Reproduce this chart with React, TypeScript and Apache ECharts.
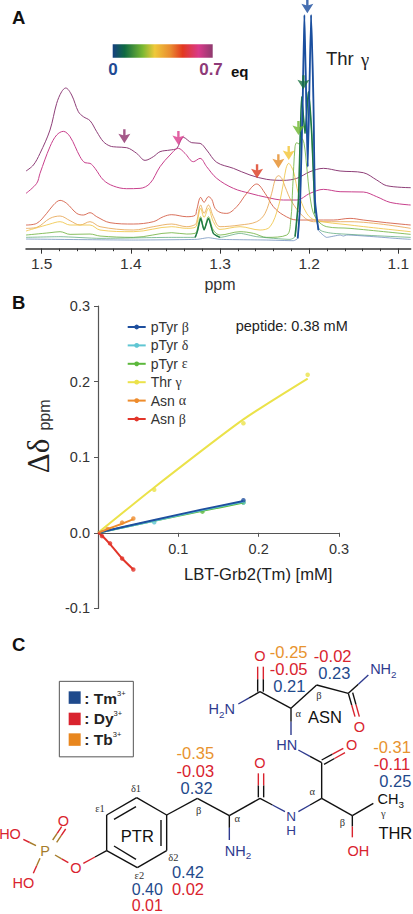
import React, { useEffect, useRef } from "react";
import * as echarts from "echarts";

// Panel A: NMR traces [ppm, relative intensity]
const tracePurple = [[1.5176,233],[1.5093,251],[1.5019,286],[1.4907,356],[1.4832,436],[1.4776,471],[1.4731,482],[1.4664,461],[1.4589,411],[1.4533,396],[1.4458,384],[1.4383,351],[1.4308,321],[1.4234,308],[1.4159,305],[1.4047,303],[1.3935,286],[1.3841,265],[1.3748,276],[1.3673,291],[1.3561,296],[1.3486,301],[1.3411,334],[1.3318,318],[1.3224,316],[1.315,296],[1.3037,259],[1.285,241],[1.2664,221],[1.2477,208],[1.229,205],[1.214,211],[1.1991,231],[1.1841,241],[1.1654,233],[1.1393,228],[1.1243,206],[1.1131,189],[1.0862,183]];
const tracePink = [[1.5176,166],[1.5056,196],[1.5019,226],[1.4907,306],[1.4832,341],[1.4757,352],[1.4682,336],[1.457,276],[1.4514,258],[1.4458,256],[1.4402,241],[1.4308,206],[1.4196,188],[1.4047,180],[1.3897,181],[1.3785,196],[1.3673,246],[1.3561,281],[1.3467,301],[1.3393,286],[1.3299,261],[1.3224,271],[1.315,246],[1.3037,211],[1.285,181],[1.2664,166],[1.2477,154],[1.229,146],[1.214,146],[1.1991,166],[1.1841,178],[1.1654,171],[1.1393,170],[1.1243,156],[1.1093,139],[1.0862,131]];
const traceRed = [[1.5176,71],[1.5056,76],[1.4944,106],[1.4869,131],[1.4794,145],[1.472,136],[1.4607,106],[1.4533,101],[1.4458,108],[1.4383,96],[1.4234,78],[1.3972,74],[1.3748,81],[1.3636,96],[1.3542,102],[1.3374,96],[1.328,100],[1.3262,116],[1.3217,154],[1.3179,139],[1.3131,156],[1.3093,148],[1.3056,121],[1.3,109],[1.2925,106],[1.2813,126],[1.2701,166],[1.2589,194],[1.2495,166],[1.2402,126],[1.229,101],[1.214,86],[1.1953,86],[1.1729,86],[1.1542,91],[1.1393,86],[1.1131,78],[1.0862,71]];
const traceOrange = [[1.5176,61],[1.5056,64],[1.4907,91],[1.4794,98],[1.4682,84],[1.457,71],[1.4458,81],[1.4346,66],[1.3972,56],[1.3748,66],[1.3542,74],[1.3374,66],[1.328,72],[1.3262,81],[1.3217,131],[1.3179,106],[1.3131,131],[1.3075,96],[1.3,66],[1.2776,71],[1.2589,81],[1.2495,106],[1.2421,166],[1.2383,206],[1.2346,219],[1.2308,211],[1.2271,186],[1.2196,141],[1.2065,96],[1.1953,81],[1.1542,81],[1.0862,61]];
const traceYellow = [[1.5176,53],[1.4907,74],[1.4794,81],[1.4682,71],[1.4458,71],[1.4346,56],[1.3972,51],[1.3542,66],[1.3374,61],[1.328,64],[1.3262,71],[1.3217,121],[1.3179,94],[1.3131,121],[1.3075,81],[1.3,58],[1.2776,66],[1.2551,56],[1.2439,66],[1.2346,126],[1.229,196],[1.226,241],[1.223,256],[1.22,246],[1.217,226],[1.2121,166],[1.2028,106],[1.1935,86],[1.1542,71],[1.0862,51]];
const traceGreen = [[1.5176,41],[1.4907,48],[1.4794,51],[1.4682,43],[1.4458,44],[1.4346,38],[1.3972,34],[1.3542,48],[1.3374,44],[1.328,46],[1.3262,52],[1.3217,96],[1.3179,60],[1.3131,96],[1.3075,56],[1.3,41],[1.2776,51],[1.2626,46],[1.2477,34],[1.2252,41],[1.2207,86],[1.2185,186],[1.2159,306],[1.214,318],[1.2114,314],[1.2084,331],[1.2058,316],[1.2028,246],[1.1991,156],[1.1935,96],[1.1804,66],[1.1542,61],[1.0862,43]];
const traceDarkGreen = [[1.5176,34],[1.4794,36],[1.4346,31],[1.3542,34],[1.328,34],[1.3254,52],[1.3217,91],[1.3179,56],[1.3131,91],[1.3075,46],[1.3,34],[1.2776,46],[1.2589,36],[1.2215,28],[1.2159,36],[1.2121,146],[1.2084,456],[1.2047,346],[1.2009,471],[1.1972,346],[1.1935,106],[1.1879,56],[1.1729,46],[1.0862,34]];
const traceBlue = [[1.5176,29],[1.3972,26],[1.3262,28],[1.3131,33],[1.3,28],[1.2477,26],[1.2178,24],[1.2129,31],[1.2103,126],[1.2073,446],[1.2054,701],[1.2017,246],[1.1979,701],[1.1953,446],[1.1935,146],[1.1897,56],[1.1804,34],[1.1654,41],[1.1617,38],[1.1579,41],[1.0981,30],[1.0862,28]];
const arrowTips = [[1.2021,706],[1.2065,478],[1.2121,341],[1.223,266],[1.2346,241],[1.2585,211],[1.3467,311],[1.4073,316]];
const arrowColors = ["#164a9c","#15703f","#6cb52d","#f3c433","#e58b26","#dc3a1e","#d9398c","#8e2f6b"];
const ppmTicks = [1.1,1.2,1.3,1.4,1.5];
const ppmMinorTicks = [1.1,1.12,1.14,1.16,1.18,1.2,1.22,1.24,1.26,1.28,1.3,1.32,1.34,1.36,1.38,1.4,1.42,1.44,1.46,1.48,1.5];

// Panel B: fitted curves and measured points, [mM, ppm]
const fitThr = [[0,0],[0.07,0.06],[0.181,0.15],[0.261,0.204]];
const ptsThr = [[0.07,0.057],[0.181,0.145],[0.261,0.209]];
const fitEps = [[0,0],[0.07,0.016],[0.13,0.029],[0.181,0.04]];
const ptsEps = [[0.13,0.028],[0.181,0.04]];
const fitDelta = [[0,0],[0.07,0.016],[0.13,0.03],[0.181,0.041]];
const ptsDelta = [[0.07,0.014],[0.181,0.04]];
const fitBeta = [[0,0],[0.07,0.017],[0.13,0.031],[0.181,0.042]];
const ptsBeta = [[0.181,0.043]];
const fitAsnA = [[0,0],[0.012,0.005],[0.03,0.012],[0.044,0.018]];
const ptsAsnA = [[0.012,0.005],[0.03,0.0135],[0.044,0.019]];
const fitAsnB = [[0,0],[0.005,-0.004],[0.015,-0.015],[0.03,-0.034],[0.044,-0.0485]];
const ptsAsnB = [[0.005,-0.0044],[0.015,-0.014],[0.03,-0.034],[0.044,-0.0485]];
const legendNames = ["pTyr β","pTyr δ","pTyr ε","Thr γ","Asn α","Asn β"];

const SANS = "Liberation Sans";
const SERIF = "Liberation Serif";
const BLUE = "#1f4a8c", RED = "#d9232e", ORG = "#e8932e", NAVY = "#2f3b8f", BRN = "#a67c2a", BLK = "#111";

// Panel C helpers: coordinates on a 3x sketch of the lower panel
const px = (x: number) => x / 3;
const py = (y: number) => 610 + y / 3;
const bond = (x1: number, y1: number, x2: number, y2: number, c = BLK) => ({
  type: "line", silent: true,
  shape: { x1: px(x1), y1: py(y1), x2: px(x2), y2: py(y2) },
  style: { stroke: c, lineWidth: 1.4 },
});
const bond2 = (x1: number, y1: number, x2: number, y2: number, c1: string, c2: string) => {
  const mx = (x1 + x2) / 2, my = (y1 + y2) / 2;
  return [bond(x1, y1, mx, my, c1), bond(mx, my, x2, y2, c2)];
};
const label = (x: number, y: number, text: string, fill = BLK, fontSize = 14.5, extra: any = {}) => ({
  type: "text", silent: true, x: px(x), y: py(y), z: 5,
  style: {
    text, fill, fontSize, fontFamily: SANS, align: "center", verticalAlign: "middle",
    rich: {
      s: { fontSize: fontSize * 0.68, fill, fontFamily: SANS, padding: [10, 0, 0, 0] },
    },
    ...extra,
  },
});
const greek = (x: number, y: number, text: string) => label(x, y, text, "#333", 10.5, { fontFamily: SERIF });

const moleculeBonds = [
  bond(410,563,500,615), bond(500,615,500,722), bond(500,722,412,773), bond(412,773,320,722), bond(320,722,320,615), bond(320,615,410,563),
  bond(342,628,408,590), bond(483,630,483,708), bond(342,708,408,748),
  bond(500,615,592,565), bond(592,565,688,617), bond(688,617,780,565),
  ...bond2(688,617,688,690,BLK,NAVY),
  ...bond2(775,562,775,490,BLK,RED), ...bond2(791,562,791,490,BLK,RED),
  ...bond2(780,565,855,605,BLK,NAVY), ...bond2(965,565,895,605,BLK,NAVY),
  bond(965,565,1057,617), bond(965,565,965,458), bond(1057,617,1120,580),
  ...bond2(1057,617,1057,682,BLK,RED),
  ...bond2(965,450,1030,415,BLK,RED), ...bond2(972,463,1035,428,BLK,RED),
  ...bond2(965,458,895,420,BLK,NAVY),
  ...bond2(873,295,873,375,BLK,NAVY),
  bond(873,295,780,245), ...bond2(780,245,715,282,BLK,NAVY),
  ...bond2(773,245,773,170,BLK,RED), ...bond2(790,245,790,170,BLK,RED),
  bond(873,295,950,225), bond(950,225,1045,250),
  ...bond2(1045,250,1105,195,BLK,NAVY),
  ...bond2(1045,250,1065,320,BLK,RED), ...bond2(1058,248,1078,320,BLK,RED),
  ...bond2(320,722,250,760,BLK,RED),
  ...bond2(205,758,165,735,RED,BRN),
  ...bond2(108,707,70,688,BRN,RED),
  ...bond2(158,690,185,650,BRN,RED), ...bond2(170,697,197,657,BRN,RED),
  ...bond2(120,745,100,790,BRN,RED),
];

const moleculeLabels = [
  label(228,773,"O",RED), label(135,722,"P",BRN), label(30,672,"HO",RED), label(70,818,"HO",RED), label(190,632,"O",RED),
  label(412,677,"PTR",BLK,16.5),
  greek(408,535,"δ1"), greek(300,595,"ε1"), greek(520,742,"δ2"), greek(418,797,"ε2"),
  greek(596,600,"β"), greek(712,625,"α"), greek(957,255,"β"), greek(895,310,"α"), greek(937,545,"α"), greek(1027,637,"β"), greek(1150,610,"γ"),
  label(714,722,"NH{s|2}",NAVY), label(873,618,"N",NAVY,13.5), label(873,660,"H",NAVY,13.5), label(780,458,"O",RED),
  label(1075,722,"OH",RED), label(1172,568,"CH{s|3}",BLK), label(1186,670,"THR",BLK,16.5),
  label(1055,405,"O",RED), label(860,405,"HN",NAVY), label(975,320,"ASN",BLK,16.5), label(665,298,"H{s|2}N",NAVY),
  label(780,138,"O",RED), label(1150,178,"NH{s|2}",NAVY), label(1078,352,"O",RED),
  label(586,428,"-0.35",ORG,16.5), label(586,482,"-0.03",RED,16.5), label(590,533,"0.32",BLUE,16.5),
  label(564,785,"0.42",BLUE,16.5), label(564,838,"0.02",RED,16.5), label(442,839,"0.40",BLUE,16), label(442,887,"0.01",RED,16),
  label(866,125,"-0.25",ORG,16.5), label(866,177,"-0.05",RED,16.5), label(868,229,"0.21",BLUE,16.5),
  label(998,137,"-0.02",RED,16.5), label(1003,188,"0.23",BLUE,16.5),
  label(1176,412,"-0.31",ORG,16.5), label(1176,463,"-0.11",RED,16.5), label(1186,513,"0.25",BLUE,16.5),
];

const keyRect = (y: number, fill: string) => ({
  type: "rect", silent: true, shape: { x: px(206), y: py(y), width: 12, height: 12.5 }, style: { fill },
});
const keyText = (y: number, text: string) => ({
  type: "text", silent: true, x: px(253), y: py(y),
  style: {
    text, fill: "#222", fontSize: 15.5, fontWeight: "bold", fontFamily: SANS, verticalAlign: "middle",
    rich: { u: { fontSize: 7.5, fill: "#222", fontFamily: SANS, padding: [0, 0, 10, 0] } },
  },
});

const plainText = (x: number, y: number, text: string, fill: string, fontSize: number, extra: any = {}) => ({
  type: "text", silent: true, x, y,
  style: { text, fill, fontSize, fontFamily: SANS, verticalAlign: "middle", ...extra },
});

const traceSeries = (data: number[][], color: string, width: number, opacity = 1, smooth = 0.35) => ({
  type: "line", xAxisIndex: 0, yAxisIndex: 0, data, smooth, showSymbol: false, symbol: "none",
  silent: true, lineStyle: { color, width, opacity },
});
const within = (data: number[][], hi: number, lo: number) => data.filter((d) => d[0] <= hi && d[0] >= lo);
const fitSeries = (name: string, data: number[][], color: string) => ({
  name, type: "line", xAxisIndex: 2, yAxisIndex: 1, data, smooth: 0.2, symbol: "circle", symbolSize: 5, showSymbol: false,
  silent: true, lineStyle: { color, width: 2 }, itemStyle: { color },
});
const ptSeries = (data: number[][], color: string) => ({
  type: "scatter", xAxisIndex: 2, yAxisIndex: 1, data, symbol: "circle", symbolSize: 4.5, silent: true,
  itemStyle: { color },
});

export default function App() {
  const ref = useRef<HTMLDivElement>(null);
  useEffect(() => {
    const chart = echarts.init(ref.current!, null, { renderer: "svg" });
    const axisFont = { fontFamily: SANS, fontSize: 14.5, color: "#333" };
    chart.setOption({
      animation: false,
      backgroundColor: "#fff",
      grid: [
        { left: 26, top: 0, width: 384.7, height: 248.7 },
        { left: 98, top: 306, width: 241, height: 302.4 },
      ],
      xAxis: [
        {
          gridIndex: 0, type: "value", inverse: true, min: 1.0862, max: 1.5176, position: "bottom",
          splitLine: { show: false },
          axisLine: { show: true, onZero: false, lineStyle: { color: "#333", width: 1.5 } },
          axisTick: { show: true, customValues: ppmTicks, length: 5, lineStyle: { color: "#333" } },
          axisLabel: { show: true, customValues: ppmTicks, margin: 7, formatter: (v: number) => v.toFixed(1), ...axisFont, fontSize: 15.5 },
        },
        {
          gridIndex: 0, type: "value", inverse: true, min: 1.0862, max: 1.5176, position: "bottom",
          splitLine: { show: false },
          axisLine: { show: false, onZero: false },
          axisTick: { show: true, customValues: ppmMinorTicks, length: 2.5, lineStyle: { color: "#333" } },
          axisLabel: { show: false },
        },
        {
          gridIndex: 1, type: "value", min: 0, max: 0.3, interval: 0.1,
          splitLine: { show: false },
          axisLine: { show: true, onZero: true, lineStyle: { color: "#555", width: 1.2 } },
          axisTick: { show: true, length: 4, lineStyle: { color: "#555" } },
          axisLabel: { margin: -67, formatter: (v: number) => (v === 0 ? "" : v.toFixed(1)), ...axisFont },
        },
      ],
      yAxis: [
        { gridIndex: 0, type: "value", min: 0, max: 746, show: false },
        {
          gridIndex: 1, type: "value", min: -0.1, max: 0.3, interval: 0.1,
          splitLine: { show: false },
          axisLine: { show: true, onZero: false, lineStyle: { color: "#555", width: 1.2 } },
          axisTick: { show: true, length: 4, lineStyle: { color: "#555" } },
          axisLabel: { margin: 8, formatter: (v: number) => v.toFixed(1), ...axisFont },
        },
      ],
      legend: {
        left: 126.7, top: 320, orient: "vertical", itemWidth: 18, itemHeight: 6, itemGap: 4.4, padding: 0,
        data: legendNames, selectedMode: false,
        textStyle: { fontFamily: SANS, fontSize: 14, color: "#333",
          rich: { g: { fontFamily: SERIF, fontSize: 14, color: "#333" } } },
        formatter: (n: string) => n.replace(/ (.)$/, " {g|$1}"),
      },
      series: [
        traceSeries(tracePurple, "#8e3f78", 1),
        traceSeries(tracePink, "#c8408c", 1),
        traceSeries(traceRed, "#d2573e", 1, 0.85),
        traceSeries(traceOrange, "#e6a04a", 1, 0.8),
        traceSeries(traceYellow, "#f0c648", 1, 0.85),
        traceSeries(traceGreen, "#6cb03a", 1, 0.8),
        traceSeries(traceDarkGreen, "#3f9a62", 0.8, 0.8, 0.2),
        traceSeries(within(traceDarkGreen, 1.33, 1.3), "#1f7a45", 1.4, 1, 0.2),
        traceSeries(within(traceDarkGreen, 1.216, 1.189), "#1f7a45", 1.6, 1, 0.2),
        traceSeries(traceBlue, "#4f76ad", 0.8, 0.8, 0.15),
        traceSeries(within(traceBlue, 1.214, 1.189), "#1b4f9f", 1.8, 1, 0.15),
        {
          type: "scatter", xAxisIndex: 0, yAxisIndex: 0, silent: true, clip: false,
          data: arrowTips.map((v, i) => ({ value: v, itemStyle: { color: arrowColors[i] } })),
          symbol: "path://M4.7 0H7.3V6L12.5 4.5L6 14L-.5 4.5L4.7 6Z",
          symbolSize: [12, 14], symbolOffset: [0, -7], z: 5,
        },
        fitSeries("Thr γ", fitThr, "#ebe24a"), ptSeries(ptsThr, "#ebe24a"),
        fitSeries("pTyr ε", fitEps, "#5cb83c"), ptSeries(ptsEps, "#5cb83c"),
        fitSeries("pTyr δ", fitDelta, "#5fc6d3"), ptSeries(ptsDelta, "#5fc6d3"),
        fitSeries("pTyr β", fitBeta, "#1e4f9e"), ptSeries(ptsBeta, "#1e4f9e"),
        fitSeries("Asn α", fitAsnA, "#ee8c2c"), ptSeries(ptsAsnA, "#ee8c2c"),
        fitSeries("Asn β", fitAsnB, "#e2352a"), ptSeries(ptsAsnB, "#e2352a"),
      ],
      graphic: [
        plainText(12, 17, "A", "#111", 18.5, { fontWeight: "bold" }),
        plainText(12, 302, "B", "#111", 18.5, { fontWeight: "bold" }),
        plainText(12, 644, "C", "#111", 18.5, { fontWeight: "bold" }),
        {
          type: "rect", silent: true, shape: { x: 112.7, y: 44.3, width: 100, height: 13.4 },
          style: {
            fill: new echarts.graphic.LinearGradient(0, 0, 1, 0, [
              { offset: 0, color: "#15407f" }, { offset: 0.12, color: "#0f6a42" }, { offset: 0.3, color: "#7ab832" },
              { offset: 0.42, color: "#efc93a" }, { offset: 0.58, color: "#e98a30" }, { offset: 0.7, color: "#e2381f" },
              { offset: 0.86, color: "#d93a8a" }, { offset: 1, color: "#8e3a6e" },
            ]),
          },
        },
        plainText(113, 69.5, "0", "#1f4a94", 17, { align: "center", fontWeight: "bold" }),
        plainText(211, 69.5, "0.7", "#8e3a78", 17, { align: "center", fontWeight: "bold" }),
        plainText(231, 71, "eq", "#111", 15, { fontWeight: "bold" }),
        plainText(326, 58, "Thr", "#222", 18.5),
        plainText(361, 60, "γ", "#222", 18.5, { fontFamily: SERIF }),
        plainText(220, 284, "ppm", "#333", 16, { align: "center" }),
        plainText(235.7, 326, "peptide: 0.38 mM", "#222", 14.5),
        plainText(184, 574, "LBT-Grb2(Tm) [mM]", "#222", 16.6),
        { type: "text", silent: true, x: 38, y: 456, rotation: Math.PI / 2,
          style: { text: "Δδ", fill: "#222", fontSize: 31, fontFamily: SERIF, align: "center", verticalAlign: "middle" } },
        { type: "text", silent: true, x: 44, y: 415, rotation: Math.PI / 2,
          style: { text: "ppm", fill: "#333", fontSize: 16, fontFamily: SANS, align: "center", verticalAlign: "middle" } },
        { type: "rect", silent: true, shape: { x: px(178), y: py(214), width: 74, height: 75.5 }, style: { fill: "#fff", stroke: "#555", lineWidth: 1 } },
        keyRect(244, BLUE), keyRect(308, RED), keyRect(370, "#e8861e"),
        keyText(264, ": Tm{u|3+}"), keyText(326, ": Dy{u|3+}"), keyText(389, ": Tb{u|3+}"),
        ...moleculeBonds,
        ...moleculeLabels,
      ],
    });
    return () => chart.dispose();
  }, []);
  return <div ref={ref} style={{ position: "absolute", left: 0, top: 0, width: 413, height: 914 }} />;
}
